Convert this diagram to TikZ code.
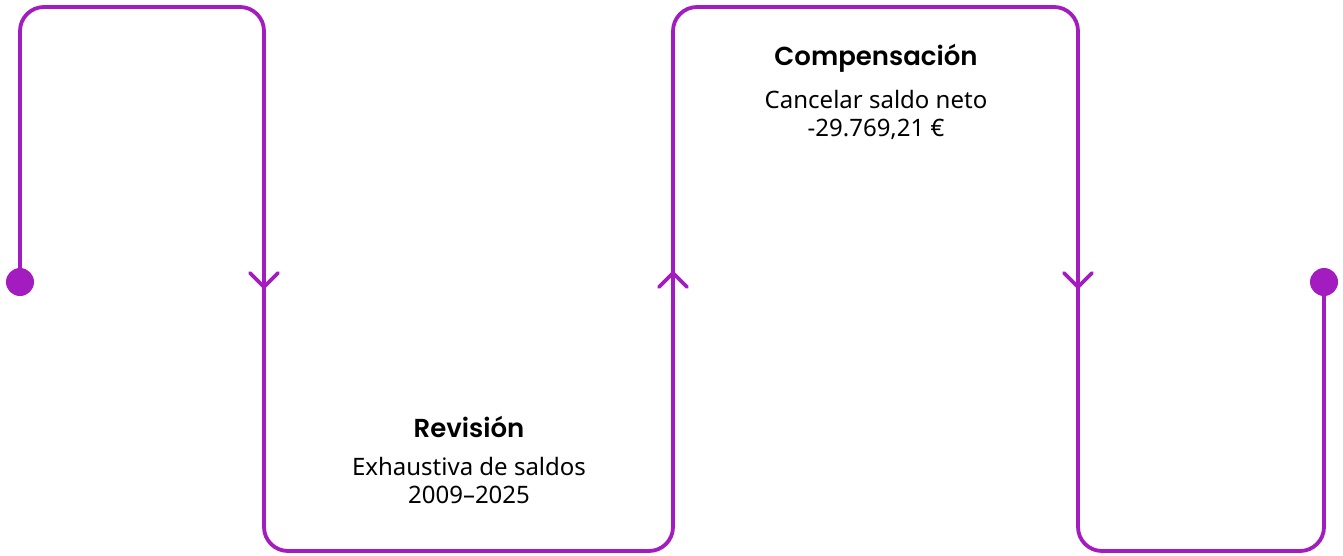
\documentclass[tikz,border=0pt]{standalone}
\usepackage{fontspec}
\setmainfont{Noto Sans}
\newfontfamily\headfont{Poppins}[BoldFont={Poppins SemiBold}]
\usepackage{tikz}
\definecolor{flowpurple}{HTML}{A21CC0}
\usetikzlibrary{positioning, calc}

\tikzset{
  flow/.style={draw=flowpurple, line width=3.8pt, rounded corners=24pt},
  chev/.style={draw=flowpurple, line width=3.8pt, line cap=round, line join=round},
  enddot/.style={circle, fill=flowpurple, inner sep=0pt, minimum size=28pt},
  stagetitle/.style={font=\headfont\bfseries\fontsize{26}{30}\selectfont, text=black},
  stagetext/.style={font=\fontsize{24}{28.5}\selectfont, text=black, align=center}
}

\begin{document}
\begin{tikzpicture}[x=1pt, y=-1pt]
\useasboundingbox (0,0) rectangle (1343,555);
% start and end of the flow
\node[enddot] (start) at (20,282) {};
\node[enddot] (finish) at (1324,282) {};
% the meandering line
\draw[flow] (start.center) -- (20,7) -- (264,7) -- (264,551) -- (673,551)
  -- (673,7) -- (1078,7) -- (1078,551) -- (1324,551) -- (finish.center);
% direction marks
\foreach \x/\d in {264/1, 673/-1, 1078/1} {
    \draw[chev] (\x-14,280-7*\d) -- (\x,280+7*\d) -- (\x+14,280-7*\d);
}
% stage labels
\node[stagetitle] (revtitle) at (469,427) {Revisión};
\node[stagetext, below=12pt of revtitle] (revtext) {Exhaustiva de saldos\\2009–2025};
\node[stagetitle] (comptitle) at (876,58) {Compensación};
\node[stagetext, below=11pt of comptitle] (comptext) {Cancelar saldo neto\\-29.769,21 €};
\end{tikzpicture}
\end{document}
